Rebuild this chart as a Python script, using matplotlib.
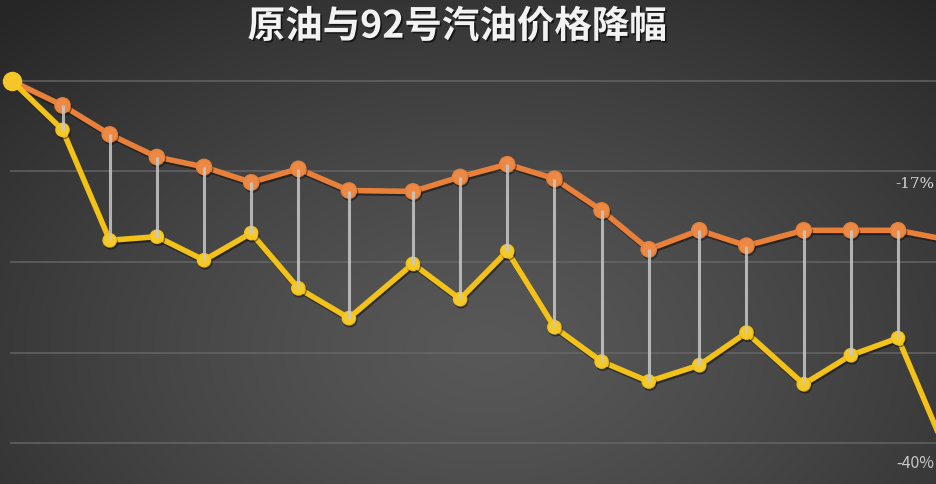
import numpy as np
import pandas as pd
import matplotlib

matplotlib.use("Agg")
import matplotlib.pyplot as plt
import matplotlib.patheffects as pe

plt.rcParams["font.family"] = ["Noto Sans CJK SC", "DejaVu Sans"]

# days between successive price-adjustment windows
gap_days = [0, 15, 14, 14, 14, 14, 14, 15, 19, 14, 14, 14, 14, 14, 15, 14, 17, 14, 14, 14]
# cumulative price change, %
gasoline = [0, -2.7, -5.9, -8.4, -9.5, -11.2, -9.7, -12.1, -12.2, -10.6,
            -9.2, -10.8, -14.3, -18.6, -16.5, -18.2, -16.5, -16.5, -16.5, -17.5]
crude = [0, -5.4, -17.6, -17.2, -19.8, -16.8, -22.9, -26.2, -20.2, -24.1,
         -18.8, -27.2, -31.0, -33.2, -31.4, -27.8, -33.5, -30.3, -28.4, -40.7]
last_labels = ["-17%", "-40%"]
title = "原油与92号汽油价格降幅"

df = pd.DataFrame({"day": np.cumsum(gap_days), "gasoline": gasoline, "crude": crude})

W, H = 937, 484
fig = plt.figure(figsize=(W / 100, H / 100), dpi=100)

# dark radial background
bg = fig.add_axes([0, 0, 1, 1])
yy, xx = np.mgrid[0:1:300j, 0:1:600j]
r = np.sqrt(((xx - 0.52) / 0.75) ** 2 + ((yy - 0.72) / 0.95) ** 2)
r = np.clip(r, 0, 1)
inner = np.array([0x58, 0x58, 0x58]) / 255
outer = np.array([0x26, 0x26, 0x26]) / 255
img = inner + (outer - inner) * r[..., None] ** 1.3
bg.imshow(img, extent=[0, 1, 0, 1], aspect="auto", origin="upper")
bg.set_axis_off()

ax = fig.add_axes([0, 0, 1, 1])
ax.set_facecolor("none")
px_per_day = 3.369
ax.set_xlim(-12 / px_per_day, (W - 12) / px_per_day)
ax.set_ylim(-44.53, 8.95)
for v in [0, -10, -20, -30, -40]:
    ax.axhline(v, xmin=0.012, color="#6a6a6a", lw=1.2, alpha=0.8, zorder=1)
ax.set_axis_off()

shadow = [pe.SimpleLineShadow(offset=(0.8, -1.5), shadow_color="black", alpha=0.45), pe.Normal()]

ax.plot(df["day"], df["gasoline"], color="#E8803A", lw=4.0, marker="o", ms=11,
        mfc="#EC8A45", mec="#E8803A", zorder=3, path_effects=shadow)
ax.plot(df["day"], df["crude"], color="#F2C218", lw=4.0, marker="o", ms=9.5,
        mfc="#F4CA2A", mec="#F2C218", zorder=4, path_effects=shadow)
ax.plot(df["day"].iloc[:1], df["crude"].iloc[:1], "o", ms=13, color="#F4C62A", zorder=5)

ax.vlines(df["day"].iloc[1:], df["crude"].iloc[1:], df["gasoline"].iloc[1:],
          color="#c8c8c8", lw=2.2, alpha=0.85, zorder=6)

fig.text(935 / W, 1 - 184 / H, last_labels[0], color="#d8d8d8", fontsize=11,
         ha="right", va="center", family="DejaVu Serif")
ax.annotate(last_labels[1], (df["day"].iloc[-1], df["crude"].iloc[-1]),
            xytext=(-30, -14), textcoords="offset pixels", color="#c8c8c8",
            fontsize=11.5, ha="center", va="center", annotation_clip=False)

fig.text(0.488, 0.946, title, ha="center", va="center", fontsize=27,
         fontweight="bold", color="#f2f2f2",
         path_effects=[pe.withSimplePatchShadow(offset=(1.2, -1.2), shadow_rgbFace="black", alpha=0.6)])

fig.savefig("out.png", dpi=100)
